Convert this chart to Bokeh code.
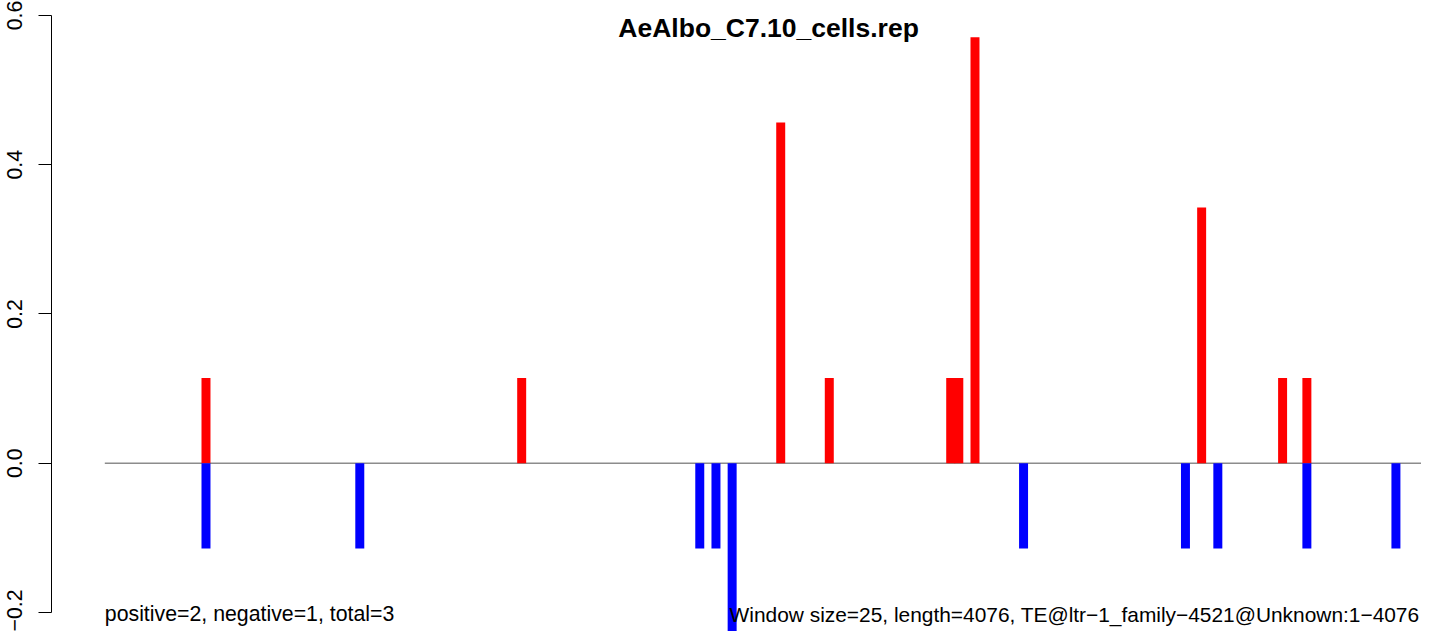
from bokeh.plotting import figure
from bokeh.models import FixedTicker, CustomJSTickFormatter, Range1d
from bokeh.core.properties import value
from bokeh.embed import file_html
from bokeh.resources import INLINE

# ---------------- data ----------------
title_text = "AeAlbo_C7.10_cells.rep"
window_size = 25
seq_length = 4076
n_windows = 164  # ceil(4076 / 25)

pos_windows = [13, 52, 84, 90, 105, 106, 108, 136, 146, 149]
pos_values = [0.1142, 0.1142, 0.4566, 0.1142, 0.1142, 0.1142, 0.5710, 0.3426, 0.1142, 0.1142]

neg_windows = [13, 32, 74, 76, 78, 114, 134, 138, 149, 160]
neg_values = [-0.1142, -0.1142, -0.1142, -0.1142, -0.2284, -0.1142, -0.1142, -0.1142, -0.1142, -0.1142]

y_ticks = [-0.2, 0.0, 0.2, 0.4, 0.6]

summary_text = "positive=2, negative=1, total=3"
info_text = "Window size=25, length=4076, TE@ltr\u22121_family\u22124521@Unknown:1\u22124076"

# ---------------- figure ----------------
FONT = "Liberation Sans"
W, H = 1421, 631

x0, x1 = -12.885, 162.66
y0, y1 = -0.2255, 0.6201

p = figure(width=W, height=H, output_backend="svg", toolbar_location=None,
           x_axis_location=None, y_axis_location="left",
           x_range=Range1d(x0, x1), y_range=Range1d(y0, y1),
           min_border_left=0, min_border_right=0, min_border_top=0, min_border_bottom=0)
p.outline_line_color = None
p.xgrid.visible = False
p.ygrid.visible = False
p.background_fill_color = "white"
p.border_fill_color = "white"

# zero line
p.line(x=[0, n_windows], y=[0, 0], line_color="#8C8C8C", line_width=1.6)

# bars (centered in their window)
bar_w = 1.11
p.vbar(x=[w - 0.5 for w in pos_windows], top=pos_values, bottom=0, width=bar_w,
       fill_color="#FF0000", line_color=None)
p.vbar(x=[w - 0.5 for w in neg_windows], top=neg_values, bottom=0, width=bar_w,
       fill_color="#0000FF", line_color=None)

# texts
p.text(x=[n_windows / 2], y=[0.5839], text=[title_text],
       text_font=value(FONT), text_font_size=value("26.5px"), text_font_style="bold",
       text_align="center", text_baseline="alphabetic", text_color="black")
p.text(x=[0], y=[-0.2027], text=[summary_text],
       text_font=value(FONT), text_font_size=value("21.3px"),
       text_align="left", text_baseline="alphabetic", text_color="black")
p.text(x=[x1 - 0.25], y=[-0.2027], text=[info_text],
       text_font=value(FONT), text_font_size=value("20.9px"),
       text_align="right", text_baseline="alphabetic", text_color="black")

# y axis, R style: at the left edge of the plot region (4% extension)
ax = p.yaxis[0]
ax.fixed_location = -0.04 * n_windows
ax.bounds = (y_ticks[0], y_ticks[-1])
ax.ticker = FixedTicker(ticks=y_ticks, minor_ticks=[])
ax.formatter = CustomJSTickFormatter(
    code="return (tick < 0 ? '\u2212' : '') + Math.abs(tick).toFixed(1);")
ax.major_tick_out = 13
ax.major_tick_in = 0
ax.minor_tick_out = 0
ax.minor_tick_in = 0
ax.major_tick_line_color = "black"
ax.axis_line_color = "black"
ax.axis_line_width = 1
ax.major_label_orientation = "parallel"
ax.major_label_text_font = FONT
ax.major_label_text_font_size = "21.3px"
ax.major_label_text_color = "black"
ax.major_label_standoff = 17

open("out.html", "w").write(file_html(p, INLINE))
